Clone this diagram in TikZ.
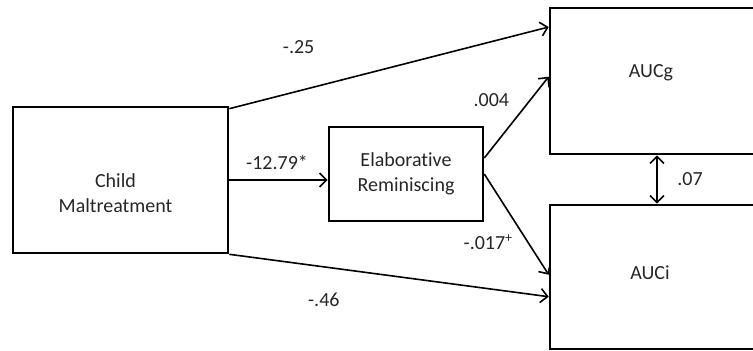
\documentclass[tikz,border=0pt]{standalone}
\usepackage{fontspec}
\setmainfont{Carlito}[Ligatures={NoCommon}]
\usetikzlibrary{arrows.meta}

\begin{document}
\begin{tikzpicture}[x=1pt, y=-1pt, >={Straight Barb[length=7pt,width=14pt]},
   box/.style={draw, line width=2.6pt, rectangle, inner sep=0pt},
   txt/.style={font=\fontsize{20}{24.5}\selectfont, align=center, text=black!85},
   path/.style={line width=1.6pt},
   coef/.style={font=\fontsize{20}{24}\selectfont, inner sep=0pt, text=black!85}
   ]
   \useasboundingbox (0,0) rectangle (753,351);
   \clip (0,0) rectangle (753,351);

   \node[box, minimum width=215pt, minimum height=146pt,
     label={[txt, xshift=-5pt, yshift=-13pt]center:Child\\Maltreatment}] (cm) at (120.5,180) {};
   \node[box, minimum width=154pt, minimum height=94pt, txt] (elab) at (406,174) {Elaborative\\Reminiscing};
   \node[box, minimum width=220pt, minimum height=146pt,
     label={[txt, xshift=-9pt, yshift=8pt]center:AUCg}] (aucg) at (660,81) {};
   \node[box, minimum width=220pt, minimum height=144pt,
     label={[txt, xshift=-10pt, yshift=4pt]center:AUCi}] (auci) at (660,277) {};

   \draw[path, ->] ([yshift=-3pt]cm.north east) -- node[coef, pos=0.217, yshift=44pt] {-.25} ([yshift=-20.3pt]aucg.north west);
   \draw[path, ->] (cm.east) -- node[coef, pos=0.485, yshift=18pt] {-12.79*} (cm.east -| elab.west);
   \draw[path, ->] (cm.south east) -- node[coef, pos=0.296, yshift=-33pt] {-.46} ([yshift=-93pt]auci.north west);

   \draw[path, ->] ([yshift=16pt]elab.east) -- node[coef, pos=0.11, yshift=49pt] {.004} ([yshift=-70pt]aucg.north west);
   \draw[path, ->] (elab.east) -- node[coef, pos=0.06, yshift=-62pt] {-.017\textsuperscript{+}} ([yshift=-71pt]auci.north west);

   \draw[path, <->] ([xshift=-3pt]aucg.south) -- node[coef, xshift=33pt] {.07} ([xshift=-3pt]auci.north);

\end{tikzpicture}
\end{document}
